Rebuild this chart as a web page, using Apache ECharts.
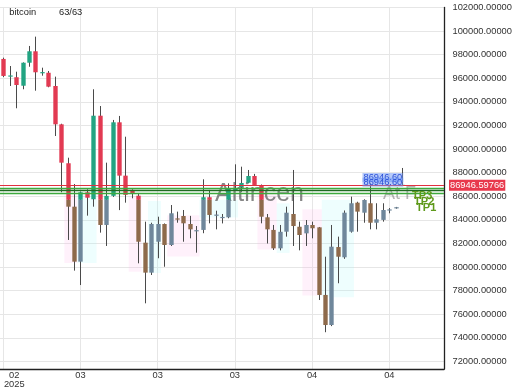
<!DOCTYPE html>
<html><head><meta charset="utf-8">
<script src="https://cdn.jsdelivr.net/npm/echarts@6/dist/echarts.min.js"></script>
<style>html,body{margin:0;padding:0;background:#fff}#c{width:520px;height:390px}</style>
</head><body><div id="c"></div>
<script>
const seriesName = 'bitcoin';
const counterText = '63/63';
const dates = [
 '2025-02-20','2025-02-21','2025-02-22','2025-02-23','2025-02-24','2025-02-25','2025-02-26','2025-02-27','2025-02-28',
 '2025-03-01','2025-03-02','2025-03-03','2025-03-04','2025-03-05','2025-03-06','2025-03-07','2025-03-08','2025-03-09','2025-03-10',
 '2025-03-11','2025-03-12','2025-03-13','2025-03-14','2025-03-15','2025-03-16','2025-03-17','2025-03-18','2025-03-19','2025-03-20',
 '2025-03-21','2025-03-22','2025-03-23','2025-03-24','2025-03-25','2025-03-26','2025-03-27','2025-03-28','2025-03-29','2025-03-30','2025-03-31',
 '2025-04-01','2025-04-02','2025-04-03','2025-04-04','2025-04-05','2025-04-06','2025-04-07','2025-04-08','2025-04-09','2025-04-10',
 '2025-04-11','2025-04-12','2025-04-13','2025-04-14','2025-04-15','2025-04-16','2025-04-17','2025-04-18','2025-04-19','2025-04-20',
 '2025-04-21','2025-04-22','2025-04-23'
];
const open  = [97640,96150,96090,95370,97320,98290,96450,96470,95350,92100,88800,85120,80460,86340,85750,92830,83570,86040,92270,87750,86540,86050,82070,79530,82150,83650,81870,84100,84330,83650,83060,83150,85920,84380,84180,84220,86480,86790,87150,87720,86960,84220,83150,81590,83000,84500,83420,82860,83570,83370,77640,75090,81700,80830,83000,85460,84610,85410,83760,84000,84820,85000,86900];
const close = [96200,96230,95430,97320,98290,96510,96500,95290,92100,88850,85120,80460,86340,85880,92830,83570,86040,92270,87750,86120,86260,82150,79530,83650,83650,81870,84560,84050,83710,83200,83100,85920,84420,84420,84220,86680,86700,87130,87720,86960,84270,83200,81590,82990,84610,83480,82720,83570,83290,77640,75090,81730,80880,84610,85410,84700,85690,83760,84050,84840,84860,85050,86946.59766];
const low   = [96100,95350,93460,95070,96980,94950,96220,95240,91110,86340,82300,79700,78480,84360,85120,82920,81790,85950,84830,85460,85830,80320,76930,79330,80750,80030,81790,83760,82150,82440,81220,82870,83710,83200,83700,84140,86450,86390,87100,86900,83710,82000,81450,81420,82580,81790,81420,81790,82440,77210,74480,75000,78630,80700,82920,83000,83760,83200,83200,83850,84560,84950,86880];
const high  = [97750,97040,96560,97350,98740,99530,96900,96620,96140,92150,89270,87040,86400,86590,95070,93650,88850,92470,92810,91050,86590,86280,83850,83760,84270,83700,85260,84700,84840,84340,83480,87440,86540,84780,84500,87100,88710,88510,88230,87900,87000,84500,83570,83570,85120,88230,83850,83990,83850,83400,80880,83570,82580,84800,85970,85540,85750,87100,85410,85410,85000,85100,88400];
const yTicks = [72000,74000,76000,78000,80000,82000,84000,86000,88000,90000,92000,94000,96000,98000,100000,102000];
const lastPrice = 86946.59766;
const levelLines = [86700, 86480, 86220];
const colorSplit = 85700;
// zones: [first category index, last category index, top price, bottom price]
const pinkZones = [[10,11,86100,80350],[20,21,86000,79600],[26,30,84400,80900],[40,42,86300,81500],[47,49,84900,77600]];
const cyanZones = [[12,14,86100,80350],[23,24,85600,79500],[31,36,85700,84200],[43,44,85400,81200],[50,54,85700,77450]];
const noteLabels = ['86946.60','86946.60'];
const notePrices = [87600, 87180];
const tpLabels = ['TP3','TP2','TP1'];
const tpPrices = [86000, 85500, 85000];

const FONT = '"Liberation Sans", Arial, sans-serif';
const UP = '#22a482', DOWN = '#e23a52', UP_LOW = '#6f879b', DOWN_LOW = '#8e6a4b', WICK = '#4a4a4a';

const chart = echarts.init(document.getElementById('c'));
const candleData = dates.map((d, i) => [i, open[i], close[i], low[i], high[i]]);

function zoneSeries(zones, color) {
  return {
    type: 'custom', silent: true, z: 1,
    data: zones,
    encode: { x: [0, 1], y: [2, 3] },
    renderItem: (params, api) => {
      const p0 = api.coord([api.value(0), api.value(2)]);
      const p1 = api.coord([api.value(1), api.value(3)]);
      const band = api.size([1, 0])[0];
      const x0 = p0[0] - band / 2, x1 = p1[0] + band / 2;
      return { type: 'rect', shape: { x: x0, y: p0[1], width: x1 - x0, height: p1[1] - p0[1] }, style: { fill: color } };
    }
  };
}

const option = {
  animation: false,
  backgroundColor: '#ffffff',
  grid: { left: 0, right: 76, top: 7.5, bottom: 21 },
  xAxis: {
    type: 'category', data: dates, max: 68, boundaryGap: true,
    axisLine: { show: true, onZero: false, lineStyle: { color: '#222', width: 1.3 } },
    axisTick: { show: false },
    axisLabel: {
      interval: i => i % 12 === 0,
      formatter: (v, idx) => {
        if (!v) return '';
        const m = v.slice(5, 7);
        return idx === 0 ? '{c|' + m + '}\n{c|' + v.slice(0, 4) + '}' : m;
      },
      alignMinLabel: 'left',
      fontSize: 9.3, lineHeight: 9, color: '#333', margin: 1.5, fontFamily: FONT,
      rich: { c: { width: 22, align: 'center', fontSize: 9.3, lineHeight: 9, color: '#333', fontFamily: FONT } }
    },
    splitLine: { show: true, interval: i => i % 12 === 0, alignWithLabel: true, lineStyle: { color: '#e6e6e6', width: 1 } }
  },
  yAxis: {
    type: 'value', position: 'right', min: 71364, max: 102000,
    axisLine: { show: true, lineStyle: { color: '#222', width: 1.3 } },
    axisTick: { show: false, customValues: yTicks },
    axisLabel: { customValues: yTicks, formatter: v => v.toFixed(5), fontSize: 9.3, color: '#333', margin: 8.5, fontFamily: FONT },
    splitLine: { show: true, lineStyle: { color: '#e6e6e6', width: 1 } }
  },
  graphic: [
    { type: 'text', z: 10, x: 9.3, y: 12.5, style: { text: seriesName, font: '9.3px ' + FONT, fill: '#222', verticalAlign: 'middle', textVerticalAlign: 'middle' } },
    { type: 'text', z: 10, x: 59, y: 12.5, style: { text: counterText, font: '9.3px ' + FONT, fill: '#222', verticalAlign: 'middle', textVerticalAlign: 'middle' } },
    { type: 'text', z: 2, x: 215, y: 194, style: { text: 'Altincen', font: '25px ' + FONT, fill: 'rgba(105,105,105,0.8)', verticalAlign: 'middle', textVerticalAlign: 'middle' } },
    { type: 'text', z: 2, x: 383, y: 194, style: { text: 'At F', font: '18px ' + FONT, fill: 'rgba(140,140,140,0.65)', verticalAlign: 'middle', textVerticalAlign: 'middle' } }
  ],
  series: [
    zoneSeries(pinkZones, 'rgba(255,170,228,0.16)'),
    zoneSeries(cyanZones, 'rgba(150,248,248,0.16)'),
    {
      type: 'custom', name: seriesName, z: 3,
      data: candleData,
      encode: { x: 0, y: [1, 2, 3, 4] },
      renderItem: (params, api) => {
        const i = api.value(0), o = api.value(1), c = api.value(2), l = api.value(3), h = api.value(4);
        const po = api.coord([i, o]), pc = api.coord([i, c]), pl = api.coord([i, l]), ph = api.coord([i, h]);
        const yt = api.coord([i, colorSplit])[1];
        const x = Math.round(po[0]) + 0.5;
        const w = api.size([1, 0])[0] * 0.68;
        const up = c >= o;
        let top = Math.min(po[1], pc[1]), bot = Math.max(po[1], pc[1]);
        if (bot - top < 1.2) { const m = (top + bot) / 2; top = m - 0.6; bot = m + 0.6; }
        const children = [{ type: 'line', shape: { x1: x, y1: ph[1], x2: x, y2: pl[1] }, style: { stroke: WICK, lineWidth: 1 } }];
        if (top < yt) children.push({ type: 'rect', shape: { x: x - w / 2, y: top, width: w, height: Math.min(bot, yt) - top }, style: { fill: up ? UP : DOWN } });
        if (bot > yt) { const t2 = Math.max(top, yt); children.push({ type: 'rect', shape: { x: x - w / 2, y: t2, width: w, height: bot - t2 }, style: { fill: up ? UP_LOW : DOWN_LOW } }); }
        return { type: 'group', children };
      }
    },
    {
      type: 'line', data: [], symbol: 'none', silent: true, z: 4,
      markLine: {
        symbol: ['none', 'none'], silent: true, animation: false,
        data: [
          { yAxis: lastPrice, lineStyle: { color: '#e0303f', width: 1, type: 'solid' },
            label: { show: true, position: 'end', distance: 5, formatter: lastPrice.toFixed(5), color: '#fff', backgroundColor: '#e8384c', padding: [1, 1, 1, 1], fontSize: 9.3, fontFamily: FONT } },
          { yAxis: levelLines[0], lineStyle: { color: '#3daa3d', width: 1.3, type: 'solid' }, label: { show: false } },
          { yAxis: levelLines[1], lineStyle: { color: '#1f6b21', width: 1.3, type: 'solid' }, label: { show: false } },
          { yAxis: levelLines[2], lineStyle: { color: '#3daa3d', width: 1.3, type: 'solid' }, label: { show: false } }
        ]
      },
      markPoint: {
        symbol: 'rect', symbolSize: 0, silent: true, animation: false,
        data: noteLabels.map((t, k) => ({ coord: [59, notePrices[k]],
          label: { show: true, position: 'inside', formatter: t, color: '#2a4fd6', backgroundColor: 'rgba(110,150,245,0.5)', fontSize: 9.3, padding: [0, 1], fontFamily: FONT } }))
          .concat(tpLabels.map((t, k) => ({ coord: [62, tpPrices[k]],
          label: { show: true, position: 'inside', offset: [20 + 2 * k, 0], formatter: t, color: '#5f9a1c', fontWeight: 'bold', fontSize: 11, fontFamily: FONT } })))
      }
    }
  ]
};
chart.setOption(option);
</script>
</body></html>
